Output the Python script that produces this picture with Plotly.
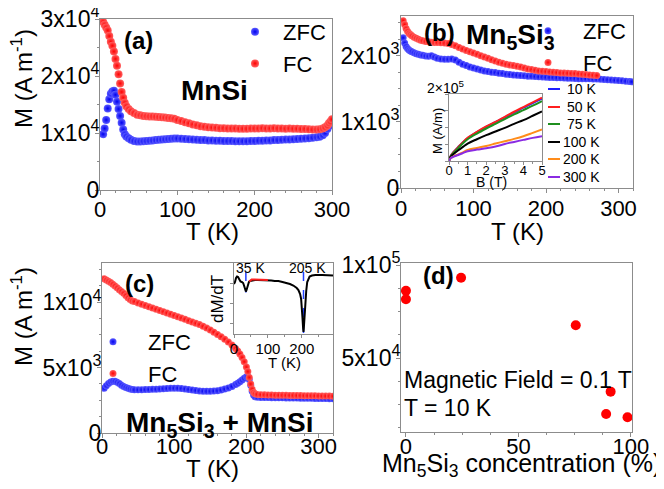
import plotly.graph_objects as go

# The page has an 8 px body margin, so the figure is drawn 8 px in and sized to fit.
OFF = 8
W, H = 664 - OFF, 489 - OFF
FONT = "Liberation Sans, Arial, sans-serif"

# ---------------- (a) MnSi : M(T) ----------------
T_a = [4, 6, 8, 10, 12, 14, 16, 18, 20, 22, 24, 26, 28, 30, 32, 34, 37, 40, 44, 48,
       52, 56, 60, 64, 68, 72, 76, 80, 84, 88, 92, 96,
       100, 105, 110, 115, 120, 125, 130, 135, 140, 145, 150, 155, 160, 165, 170, 175,
       180, 185, 190, 195, 200, 205, 210, 215, 220, 225, 230, 235, 240, 245, 250, 255,
       260, 265, 270, 275, 280, 284, 288, 291, 294, 296, 298, 300]
ZFC_a = [9800, 10800, 12300, 14300, 15900, 16900, 17300, 17400, 16700, 15500, 14200, 13000,
         11800, 10600, 9800, 9400, 9100, 8800, 8600, 8500,
         8500, 8550, 8600, 8650, 8700, 8750, 8800, 8850, 8900, 8950, 9000, 9050,
         9050, 9000, 8950, 8900, 8850, 8800, 8750, 8750, 8700, 8700, 8650, 8650, 8600, 8600,
         8600, 8550, 8550, 8550, 8550, 8600, 8600, 8650, 8650, 8700, 8700, 8750, 8750, 8800,
         8850, 8850, 8900, 8950, 9000, 9050, 9100, 9150, 9250, 9350, 9600, 10000, 10700,
         11200, 11700, 12200]
FC_a = [29500, 29000, 28500, 28000, 27000, 26000, 25300, 24300, 23000, 21800, 20300, 18700,
        17200, 16200, 15300, 14700, 14200, 13800, 13500, 13200,
        13100, 13000, 12950, 12900, 12900, 12850, 12800, 12750, 12700, 12650, 12600, 12500,
        12300, 12100, 11900, 11700, 11500, 11350, 11200, 11100, 11000, 10950, 10900, 10850,
        10850, 10800, 10800, 10800, 10750, 10750, 10750, 10800, 10800, 10800, 10850, 10800,
        10800, 10850, 10800, 10800, 10750, 10800, 10750, 10750, 10700, 10700, 10650, 10600,
        10600, 10650, 10800, 11000, 11300, 11700, 12000, 12400]

# ---------------- (b) Mn5Si3 : M(T) ----------------
T_b = [3, 5, 7, 9, 11, 13, 15, 18, 21, 24, 27, 30, 34, 38, 42, 46, 50,
       55, 60, 65, 70, 75, 80, 85, 90, 95, 100, 105, 110, 115, 120, 125, 130, 135, 140,
       145, 150, 155, 160, 165, 170, 175, 180, 185, 190, 195, 200, 205, 210, 215, 220,
       225, 230, 235, 240, 245, 250, 255, 260, 265, 270, 275, 280, 285, 290, 295, 300,
       305, 310, 315, 318]
ZFC_b = [2270, 2190, 2140, 2110, 2085, 2070, 2060, 2045, 2030, 2020, 2010, 2005, 1995, 1990,
         2000, 1980, 1960,
         1950, 1945, 1945, 1950, 1935, 1900, 1870, 1850, 1830, 1815, 1800, 1785, 1770, 1760,
         1750, 1745, 1735, 1730, 1720, 1715, 1710, 1705, 1700, 1695, 1690, 1688, 1685, 1680,
         1678, 1675, 1672, 1670, 1668, 1665, 1662, 1660, 1658, 1655, 1653, 1652, 1651, 1650,
         1649, 1648, 1645, 1640, 1636, 1632, 1628, 1625, 1620, 1615, 1610, 1605]
FC_b = [2530, 2470, 2410, 2370, 2340, 2320, 2300, 2280, 2265, 2250, 2235, 2225, 2215, 2210,
        2205, 2200, 2200,
        2195, 2190, 2185, 2170, 2150, 2125, 2100, 2080, 2060, 2040, 2020, 2000, 1980, 1960,
        1940, 1920, 1900, 1885, 1870, 1860, 1850, 1840, 1830, 1815, 1800, 1790, 1780, 1770,
        1765, 1760, 1755, 1750, 1745, 1740, 1738, 1735, 1732, 1730, 1725, 1720, 1715, 1710,
        1705, 1700]

# inset (b): M(B) isotherms
B_ins = [0, 0.1, 0.25, 0.5, 0.75, 1, 1.5, 2, 2.5, 3, 3.5, 4, 4.5, 5]
iso_temps = ["10 K", "50 K", "75 K", "100 K", "200 K", "300 K"]
iso_colors = ["#1f1fff", "#ff1f1f", "#1f8f1f", "#000000", "#ff8c1a", "#8a2be2"]
M_10K = [0, 16000, 27000, 42000, 56000, 68000, 86000, 102000, 116000, 130000, 145000, 159000, 173000, 186000]
M_50K = [0, 16000, 27000, 42000, 56000, 69000, 87000, 103000, 117000, 132000, 147000, 161000, 175000, 189000]
M_75K = [0, 15000, 25000, 39000, 53000, 65000, 82000, 97000, 111000, 125000, 139000, 152000, 165000, 179000]
M_100K = [0, 13000, 21000, 32000, 42000, 52000, 65000, 77000, 88000, 99000, 111000, 122000, 135000, 148000]
M_200K = [0, 9000, 14000, 20000, 26000, 33000, 39000, 45000, 52000, 59000, 66000, 74000, 84000, 94000]
M_300K = [0, 9000, 13000, 18000, 24000, 29000, 34000, 38000, 43000, 51000, 57000, 63000, 69000, 74000]
M_iso = [M_10K, M_50K, M_75K, M_100K, M_200K, M_300K]

# ---------------- (c) Mn5Si3 + MnSi : M(T) ----------------
T_c = [3, 6, 9, 12, 15, 18, 21, 24, 27, 30, 33, 36, 39, 42, 45,
       50, 55, 60, 65, 70, 75, 80, 85, 90, 95, 100, 105, 110, 115, 120, 125, 130, 135, 140,
       145, 150, 155, 160, 165, 170, 175, 180, 185, 188, 191, 194, 197, 200,
       202, 204, 206, 208, 210, 212, 215,
       220, 225, 230, 235, 240, 245, 250, 255, 260, 265, 270, 275, 280, 285, 290, 295, 300,
       305, 310, 315, 320]
ZFC_c = [3430, 3620, 3780, 3900, 3960, 3950, 3880, 3780, 3660, 3560, 3480, 3420, 3370, 3330, 3310,
         3300, 3310, 3320, 3330, 3340, 3350, 3370, 3390, 3410, 3420, 3430, 3420, 3400, 3370, 3330,
         3290, 3250, 3220, 3200, 3190, 3190, 3210, 3240, 3290, 3360, 3450, 3560, 3700,
         3800, 3920, 4050, 4180, 4300,
         4330, 4100, 3650, 3200, 2900, 2780, 2740,
         2720, 2715, 2710, 2705, 2700, 2695, 2690, 2685, 2680, 2675, 2670, 2665, 2660, 2655,
         2650, 2645, 2640, 2635, 2630, 2625, 2620]
FC_c = [11800, 11700, 11600, 11500, 11380, 11250, 11100, 10950, 10820, 10680, 10520, 10350,
        10200, 10100, 10050,
        9950, 9850, 9750, 9650, 9550, 9460, 9370, 9280, 9180, 9090, 8990, 8890, 8790, 8690,
        8590, 8490, 8390, 8290, 8160, 8020, 7870, 7710, 7540, 7360, 7170, 6960, 6730, 6470,
        6280, 6050, 5780, 5450, 5050,
        4700, 4250, 3750, 3350, 3100, 3000, 2950,
        2930, 2920, 2910, 2900, 2895, 2890, 2885, 2880, 2875, 2870, 2865, 2860, 2855, 2850,
        2845, 2840, 2835, 2830, 2825, 2820, 2815]

# inset (c): dM/dT (arbitrary units)
T_dm = [0, 3, 6, 9, 12, 15, 19, 23, 27, 30, 33, 35, 37, 40, 44, 47, 52, 57, 62, 70, 80, 90,
        100, 110, 120, 131, 143, 155, 165, 175, 180, 185, 190, 195, 198, 200, 202, 204, 205,
        206, 208, 210, 213, 216, 220, 223, 230, 240, 260, 280, 292]
dMdT_zfc = [-21, -19, -15, -13.5, -14, -16, -18.5, -19, -20, -23, -27, -28.5, -27, -22, -19,
            -18, -17.5, -17, -17, -17, -17, -17, -17.5, -17.5, -18, -18, -19, -20, -21, -22.5,
            -23.5, -25, -27, -31, -36, -43, -55, -66, -69, -65, -50, -40, -28, -19, -15, -13.5,
            -12.5, -12, -12, -12.5, -12.5]
T_dm_fc = [45, 52, 60, 70, 80, 90, 100]
dMdT_fc = [-18.5, -16.5, -16.5, -16.5, -17, -16.5, -17]
T_transitions = [35, 205]
transition_labels = ["35 K", "205 K"]

# ---------------- (d) M vs Mn5Si3 concentration ----------------
conc_d = [0, 0, 24.5, 75.5, 89, 91, 98.5]
M_d = [86200, 81600, 93200, 67600, 19900, 31900, 18100]


def px(x):
    return (x - OFF) / W


def py(y):
    return 1 - (y - OFF) / H


def xd(l, r):
    return [px(l), px(r)]


def yd(t, b):
    return [py(b), py(t)]


def sphere(center, edge, size):
    return dict(color=center, size=size, line=dict(width=0),
                gradient=dict(type="radial", color=edge))


BLUE_C, BLUE_E = "#5a5aff", "#0000f0"
RED_C, RED_E = "#ff6060", "#ff0000"

fig = go.Figure()

# (a)
fig.add_trace(go.Scatter(x=T_a, y=ZFC_a, mode="markers", name="ZFC", xaxis="x", yaxis="y",
                         marker=sphere(BLUE_C, BLUE_E, 8), legend="legend"))
fig.add_trace(go.Scatter(x=T_a, y=FC_a, mode="markers", name="FC", xaxis="x", yaxis="y",
                         marker=sphere(RED_C, RED_E, 8), legend="legend"))
# (b)
fig.add_trace(go.Scatter(x=T_b, y=ZFC_b, mode="markers", name="ZFC", xaxis="x2", yaxis="y2",
                         marker=sphere(BLUE_C, BLUE_E, 7), legend="legend2"))
fig.add_trace(go.Scatter(x=T_b[:len(FC_b)], y=FC_b, mode="markers", name="FC", xaxis="x2", yaxis="y2",
                         marker=sphere(RED_C, RED_E, 7), legend="legend2"))
# inset (b)
for lab, col, m in zip(iso_temps, iso_colors, M_iso):
    fig.add_trace(go.Scatter(x=B_ins, y=m, mode="lines", name=lab, xaxis="x5", yaxis="y5",
                             line=dict(color=col, width=2, shape="spline"), showlegend=False))
# (c)
fig.add_trace(go.Scatter(x=T_c, y=ZFC_c, mode="markers", name="ZFC", xaxis="x3", yaxis="y3",
                         marker=sphere(BLUE_C, BLUE_E, 7), legend="legend3"))
fig.add_trace(go.Scatter(x=T_c, y=FC_c, mode="markers", name="FC", xaxis="x3", yaxis="y3",
                         marker=sphere(RED_C, RED_E, 7), legend="legend3"))
# inset (c)
for tt in T_transitions:
    dip = min(v for t, v in zip(T_dm, dMdT_zfc) if abs(t - tt) <= 2)
    fig.add_trace(go.Scatter(x=[tt, tt], y=[-9, dip - 1],
                             mode="lines", xaxis="x6", yaxis="y6", showlegend=False,
                             line=dict(color="#2040ff", width=1.5, dash="dash")))
fig.add_trace(go.Scatter(x=T_dm, y=dMdT_zfc, mode="lines", xaxis="x6", yaxis="y6", showlegend=False,
                         line=dict(color="black", width=2)))
fig.add_trace(go.Scatter(x=T_dm_fc, y=dMdT_fc, mode="lines", xaxis="x6", yaxis="y6", showlegend=False,
                         line=dict(color="#ff2020", width=2)))
# (d)
fig.add_trace(go.Scatter(x=conc_d, y=M_d, mode="markers", xaxis="x4", yaxis="y4", showlegend=False,
                         marker=dict(color="#ff0000", size=10, line=dict(width=0))))

AX = "#8c8c8c"


def axis(domain, rng, anchor, tickvals=None, ticktext=None, size=22, showlabels=True,
         minor_dtick=None, ticklen=4, standoff=0):
    d = dict(domain=domain, range=rng, anchor=anchor, showline=True, linecolor=AX, linewidth=1,
             mirror=True, ticks="outside", ticklen=ticklen, tickcolor=AX, showgrid=False,
             zeroline=False, showticklabels=showlabels, automargin=False,
             ticklabelstandoff=standoff, ticklabeloverflow="allow",
             tickfont=dict(size=size, color="black", family=FONT))
    if tickvals is not None:
        d["tickmode"] = "array"
        d["tickvals"] = tickvals
        if ticktext is not None:
            d["ticktext"] = ticktext
    if minor_dtick is not None:
        d["minor"] = dict(ticks="outside", ticklen=2, dtick=minor_dtick, tickcolor=AX, showgrid=False)
    return d


def sci(m, e):
    return f"{m}x10<sup>{e}</sup>"


def legend_at(marker_x, top_y, itemwidth, size=22):
    # symbol centre sits itemwidth/2 + 5 px right of the legend's left edge
    return dict(x=px(marker_x - itemwidth / 2 - 5), y=py(top_y), xanchor="left", yanchor="top",
                bgcolor="rgba(0,0,0,0)", borderwidth=0, itemwidth=itemwidth,
                font=dict(size=size, family=FONT, color="black"), itemsizing="trace")


fig.update_layout(
    template="none",
    width=W, height=H, autosize=False,
    margin=dict(l=0, r=0, t=0, b=0, pad=0),
    paper_bgcolor="white", plot_bgcolor="rgba(0,0,0,0)",
    font=dict(family=FONT, color="black"),
    xaxis=axis(xd(100, 332), [0, 300], "y", [0, 100, 200, 300], minor_dtick=20, standoff=-4),
    yaxis=axis(yd(19, 190), [0, 30000], "x", [0, 10000, 20000, 30000],
               ["0", sci(1, 4), sci(2, 4), sci(3, 4)], size=23, minor_dtick=5000, standoff=-9),
    xaxis2=axis(xd(401, 633), [0, 320], "y2", [0, 100, 200, 300], minor_dtick=20, standoff=-3),
    yaxis2=axis(yd(16, 188), [0, 2600], "x2", [0, 1000, 2000],
                ["0", sci(1, 3), sci(2, 3)], size=23, minor_dtick=250, standoff=-8),
    xaxis3=axis(xd(102, 333), [0, 320], "y3", [0, 100, 200, 300], minor_dtick=20, standoff=-10),
    yaxis3=axis(yd(263, 433), [0, 13000], "x3", [0, 5000, 10000],
                ["0", sci(5, 3), sci(1, 4)], size=23, minor_dtick=1250, standoff=-9),
    xaxis4=axis(xd(401, 632), [-2.2, 100.5], "y4", [0, 50, 100], minor_dtick=12.5, standoff=-9),
    yaxis4=axis(yd(263, 432), [10200, 101100], "x4", [50000, 100000],
                [sci(5, 4), sci(1, 5)], size=23, minor_dtick=12500, standoff=-9),
    xaxis5=axis(xd(449, 542), [0, 5], "y5", [0, 1, 2, 3, 4, 5], size=13, ticklen=3,
                minor_dtick=0.5, standoff=-6),
    yaxis5=axis(yd(94, 161), [0, 200000], "x5", [0, 50000, 100000, 150000, 200000],
                showlabels=False, ticklen=3),
    xaxis6=axis(xd(234, 333), [0, 292], "y6", [0, 100, 200], size=15, ticklen=3,
                minor_dtick=50, standoff=-2),
    yaxis6=axis(yd(263, 334), [-71, 0], "x6", [-60, -40, -20], showlabels=False, ticklen=3),
    legend=legend_at(255, 11, 46),
    legend2=legend_at(548, 10, 60),
    legend3=legend_at(113, 321, 60),
)

ann = []


def add_text(text, x, y, size, xanchor="center", angle=0, bold=False):
    if bold:
        text = f"<b>{text}</b>"
    ann.append(dict(text=text, x=px(x), y=py(y), xref="paper", yref="paper", showarrow=False,
                    xanchor=xanchor, yanchor="middle", textangle=angle,
                    font=dict(size=size, family=FONT, color="black")))


# panel labels and titles
add_text("(a)", 138, 40, 24, bold=True)
add_text("MnSi", 214, 90, 28, bold=True)
add_text("(b)", 439, 33, 24, bold=True)
add_text("Mn<sub>5</sub>Si<sub>3</sub>", 510, 36, 28, bold=True)
add_text("(c)", 139, 283, 24, bold=True)
add_text("Mn<sub>5</sub>Si<sub>3</sub> + MnSi", 220, 424, 28, bold=True)
add_text("(d)", 438, 275, 24, bold=True)
add_text("Magnetic Field = 0.1 T", 402, 380, 23, xanchor="left")
add_text("T = 10 K", 402, 408, 23, xanchor="left")
add_text("M (A m<sup>-1</sup>)", 22, 79, 24, angle=-90)
add_text("M (A m<sup>-1</sup>)", 22, 317, 24, angle=-90)
add_text("T (K)", 212, 231, 24)
add_text("T (K)", 517, 231, 24)
add_text("T (K)", 212, 468, 24)
add_text("Mn<sub>5</sub>Si<sub>3</sub> concentration (%)", 521, 465, 25)
# inset (b)
add_text("2×10<sup>5</sup>", 446, 87, 14)
add_text("M (A/m)", 437, 131, 13, angle=-90)
add_text("B (T)", 491, 182, 14)
# inset (c)
for lab, xx in zip(transition_labels, [250, 307]):
    add_text(lab, xx, 268, 14)
add_text("dM/dT", 217, 299, 17, angle=-90)
add_text("T (K)", 284, 362, 15)

# inset (b) legend (line samples + labels)
rows = [89, 107, 124, 142, 159, 177]
shapes = []
for lab, col, ry in zip(iso_temps, iso_colors, rows):
    shapes.append(dict(type="line", xref="paper", yref="paper", x0=px(548), x1=px(560),
                       y0=py(ry), y1=py(ry), line=dict(color=col, width=2)))
    add_text(lab, 581, ry, 14)

fig.update_layout(annotations=ann, shapes=shapes)

fig.write_html("out.html")
